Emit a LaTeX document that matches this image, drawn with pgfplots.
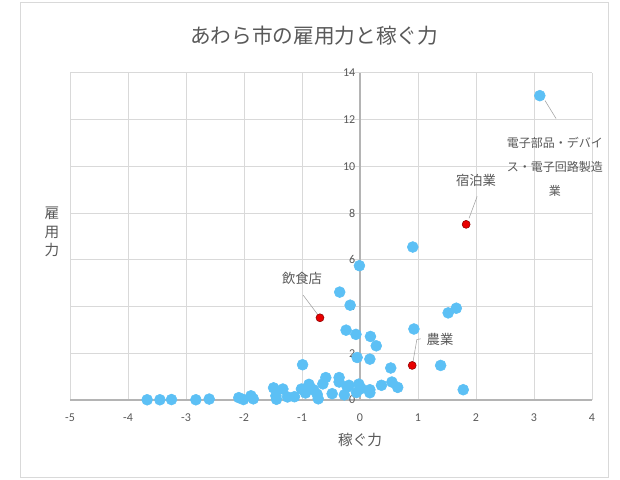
\documentclass[border=0pt]{standalone}
\usepackage{fontspec}
\setmainfont{Carlito}
\newfontfamily\jp{Noto Sans CJK JP}
\usepackage{pgfplots}
\pgfplotsset{compat=1.18}
\definecolor{dotblue}{RGB}{92,192,245}
\definecolor{dotred}{RGB}{232,0,0}
\definecolor{txt}{RGB}{89,89,89}
\definecolor{gridc}{RGB}{217,217,217}
\definecolor{axc}{RGB}{180,180,180}
\definecolor{leader}{RGB}{160,160,160}

\begin{document}
\begin{tikzpicture}[x=0.75pt,y=0.75pt]
\path[use as bounding box] (0,0) rectangle (620,479);
\fill[white] (0,0) rectangle (620,479);
\draw[gridc, line width=0.75pt] (20,2) rectangle (608,476);
\begin{axis}[
  at={(52.5pt,59.25pt)}, anchor=south west,
  scale only axis, width=391.5pt, height=245.25pt,
  xmin=-5, xmax=4, ymin=0, ymax=14,
  xtick={-5,...,4}, ytick={0,2,...,14},
  axis x line=bottom, axis y line=middle,
  axis line style={-},
  x axis line style={axc, line width=0.8pt},
  y axis line style={axc, line width=1.1pt},
  hide obscured x ticks=false, hide obscured y ticks=false,
  major tick length=0pt,
  grid=major, major grid style={gridc, line width=0.75pt},
  ticklabel style={font=\fontsize{9}{10}\selectfont, text=txt},
  xticklabel style={yshift=-7pt},
  /pgf/number format/assume math mode=true,
  clip=false,
]
% blue: other industries
\addplot[only marks, mark=*, mark size=4.1pt, mark options={fill=dotblue, draw=dotblue}] coordinates {
  (3.10,13.03) (0.91,6.55) (-0.01,5.75) (-0.35,4.62) (-0.17,4.06)
  (1.52,3.73) (1.66,3.93) (-0.24,2.99) (-0.07,2.81) (0.18,2.72)
  (0.28,2.32) (0.93,3.04) (-0.05,1.82) (0.17,1.75) (0.53,1.37)
  (1.39,1.48) (1.78,0.44) (-0.99,1.51) (-0.59,0.96) (-0.36,0.96)
  (-0.36,0.77) (-0.64,0.69) (-0.88,0.67) (-1.01,0.47) (-0.94,0.30)
  (-0.80,0.44) (-0.74,0.25) (-0.72,0.05) (-0.48,0.27) (-0.27,0.22)
  (-0.19,0.63) (-0.22,0.55) (-0.02,0.68) (-0.06,0.32) (0.02,0.49)
  (0.17,0.44) (0.17,0.31) (0.37,0.63) (0.55,0.77) (0.65,0.54)
  (-1.49,0.52) (-1.33,0.47) (-1.45,0.18) (-1.44,0.03) (-1.25,0.13)
  (-1.13,0.14) (-1.84,0.05) (-1.88,0.18) (-2.01,0.02) (-2.09,0.10)
  (-2.60,0.04) (-2.83,0.01) (-3.25,0.02) (-3.45,0.01) (-3.67,0.01)
};
% red: highlighted industries
\addplot[only marks, mark=*, mark size=3pt, mark options={fill=dotred, draw=red!55!black, line width=0.4pt}] coordinates {
  (1.83,7.52) (-0.69,3.52) (0.90,1.48)
};
\draw[leader] (axis cs:3.19,12.82) -- (axis cs:3.38,12.05);
\draw[leader] (axis cs:1.88,7.78) -- (axis cs:2.02,8.72);
\draw[leader] (axis cs:-0.72,3.63) -- (axis cs:-0.98,4.49);
\draw[leader] (axis cs:0.91,1.58) -- (axis cs:0.98,2.59) -- (axis cs:1.05,2.62);
\node[font=\jp\fontsize{9}{18}\selectfont, text=txt, align=center] at (axis cs:3.36,10.0) {電子部品・デバイ\\ス・電子回路製造\\業};
\node[font=\jp\fontsize{10}{12}\selectfont, text=txt] at (axis cs:2.0,9.4) {宿泊業};
\node[font=\jp\fontsize{10}{12}\selectfont, text=txt] at (axis cs:-1.0,5.21) {飲食店};
\node[font=\jp\fontsize{10}{12}\selectfont, text=txt] at (axis cs:1.38,2.61) {農業};
\end{axis}
\node[font=\jp\fontsize{15.5}{18}\selectfont, text=txt] at (314,443) {あわら市の雇用力と稼ぐ力};
\node[font=\jp\fontsize{11}{13}\selectfont, text=txt] at (360,39) {稼ぐ力};
\node[font=\jp\fontsize{11}{14}\selectfont, text=txt, align=center] at (52,247) {雇\\用\\力};
\end{tikzpicture}
\end{document}
